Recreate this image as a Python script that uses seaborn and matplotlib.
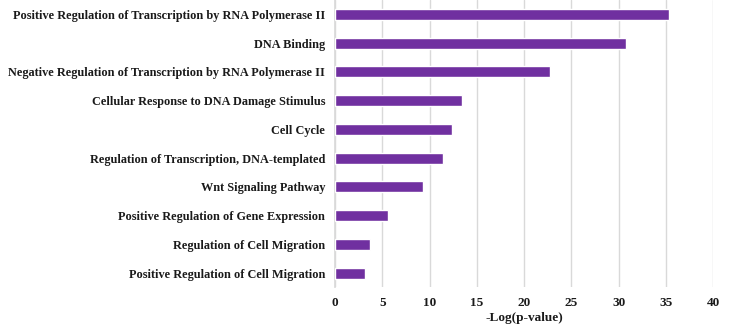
import matplotlib
matplotlib.use("Agg")
import matplotlib.pyplot as plt
import seaborn as sns
import pandas as pd

# Terminos GO y su -Log(p-value)
terminos = [
    "Positive Regulation of Transcription by RNA Polymerase II",
    "DNA Binding",
    "Negative Regulation of Transcription by RNA Polymerase II",
    "Cellular Response to DNA Damage Stimulus",
    "Cell Cycle",
    "Regulation of Transcription, DNA-templated",
    "Wnt Signaling Pathway",
    "Positive Regulation of Gene Expression",
    "Regulation of Cell Migration",
    "Positive Regulation of Cell Migration",
]
valores = [35.3, 30.8, 22.7, 13.4, 12.4, 11.4, 9.35, 5.65, 3.7, 3.15]
ticks_x = [0, 5, 10, 15, 20, 25, 30, 35, 40]

datos = pd.DataFrame({"termino": terminos, "valor": valores})

sns.set_theme(style="white")
plt.rcParams["font.family"] = ["Liberation Serif", "DejaVu Serif"]
plt.rcParams["font.weight"] = "bold"

fig = plt.figure(figsize=(7.29, 3.30), dpi=100)
ax = fig.add_axes([0.4595, 0.129, 0.519, 0.871])

sns.barplot(data=datos, x="valor", y="termino", color="#7030A0",
            saturation=1, width=0.38, ax=ax, zorder=3)

ax.set_xlim(0, 40)
ax.set_xticks(ticks_x)
ax.xaxis.grid(True, color="#D9D9D9", linewidth=1, zorder=0)
ax.set_axisbelow(True)
for lado in ["top", "right", "bottom"]:
    ax.spines[lado].set_visible(False)
ax.spines["left"].set_color("#D9D9D9")
ax.tick_params(axis="y", length=0, labelsize=8.85, colors="#1a1a1a", pad=7)
ax.tick_params(axis="x", length=0, labelsize=9.5, colors="#1a1a1a", pad=7)
for lbl in ax.get_xticklabels() + ax.get_yticklabels():
    lbl.set_fontweight("bold")

ax.set_ylabel("")
ax.set_xlabel("-Log(p-value)", fontsize=9.5, fontweight="bold", color="#1a1a1a", labelpad=2)

fig.savefig("out.png", dpi=100)
